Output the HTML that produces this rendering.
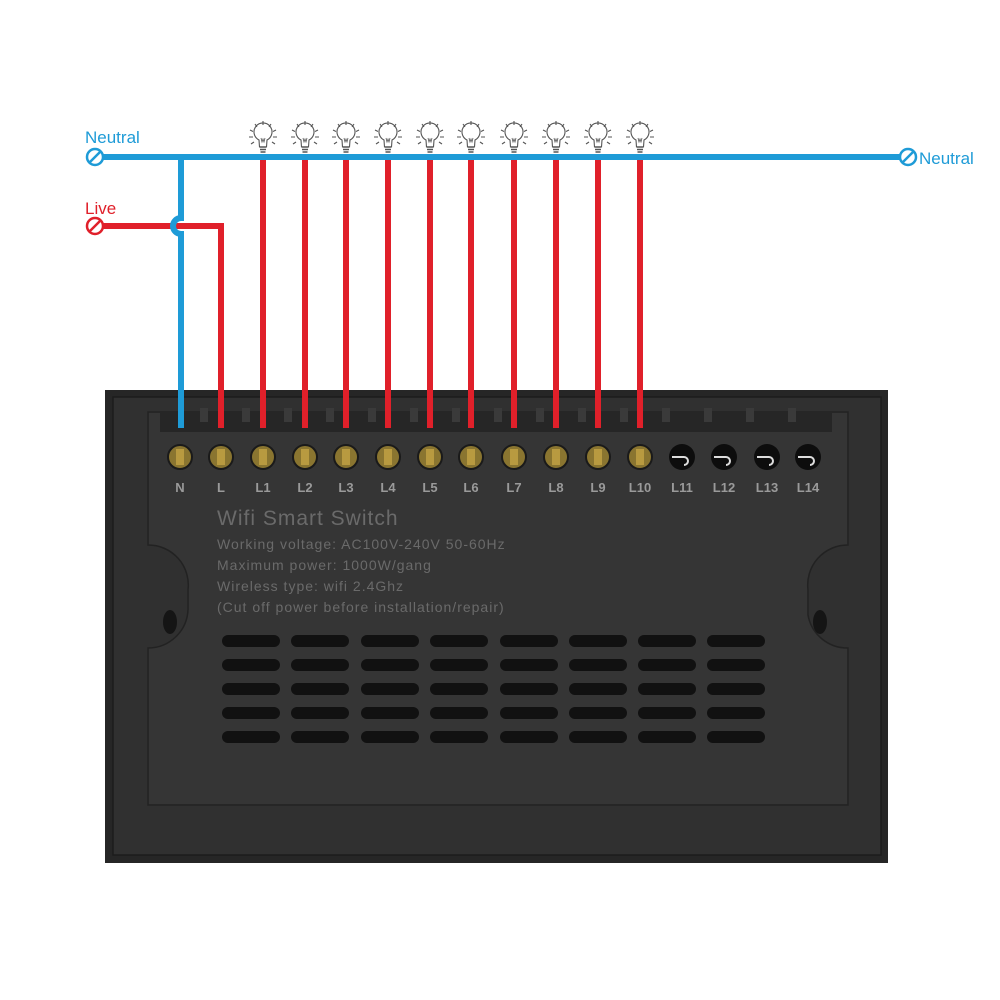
<!DOCTYPE html>
<html><head><meta charset="utf-8"><style>
html,body{margin:0;padding:0;background:#fff;}
svg{display:block}
</style></head><body>
<svg width="1000" height="1000" viewBox="0 0 1000 1000" xmlns="http://www.w3.org/2000/svg" font-family="Liberation Sans, sans-serif">
<defs>
<g id="bulb" fill="none" stroke="#555" stroke-width="1.1">
  <path d="M-4,-2 A9,9 0 1 1 4,-2 L3.5,5 L-3.5,5 Z" fill="#fff"/>
  <path d="M-3,5 h6 M-3,7.5 h6 M-2.5,10 h5" stroke-width="1.4"/>
  <path d="M-2,-4 l1,4 l1,-3 l1,3 l1,-4" stroke-width="0.8"/>
  <path d="M0,-21 v4 M-8,-18 l2,3 M8,-18 l-2,3 M-13,-12 l3,1.5 M13,-12 l-3,1.5 M-14,-5 h4 M14,-5 h-4 M-12,2 l3,-2 M12,2 l-3,-2"/>
</g>
</defs>
<!-- panel -->
<rect x="105" y="390" width="783" height="473" fill="#262626"/>
<rect x="113" y="397" width="768" height="458" fill="#303030" stroke="#1c1c1c" stroke-width="1.5"/>
<path d="M148,412 H848 V545 A40,40 0 0 0 808,590 V615 A40,40 0 0 0 848,648 V805 H148 V648 A40,40 0 0 0 188,610 V590 A40,40 0 0 0 148,545 Z" fill="#353535" stroke="#222" stroke-width="1.5"/>
<rect x="160" y="412" width="672" height="20" fill="#262626"/>
<g fill="#3a3a3a">
<rect x="200" y="408" width="8" height="14"/><rect x="242" y="408" width="8" height="14"/><rect x="284" y="408" width="8" height="14"/><rect x="326" y="408" width="8" height="14"/><rect x="368" y="408" width="8" height="14"/><rect x="410" y="408" width="8" height="14"/><rect x="452" y="408" width="8" height="14"/><rect x="494" y="408" width="8" height="14"/><rect x="536" y="408" width="8" height="14"/><rect x="578" y="408" width="8" height="14"/><rect x="620" y="408" width="8" height="14"/><rect x="662" y="408" width="8" height="14"/><rect x="704" y="408" width="8" height="14"/><rect x="746" y="408" width="8" height="14"/><rect x="788" y="408" width="8" height="14"/>
</g>
<ellipse cx="170" cy="622" rx="7" ry="12" fill="#151515"/>
<ellipse cx="820" cy="622" rx="7" ry="12" fill="#151515"/>
<!-- terminals -->
<g id="terms">
</g>
<g fill="#8a7530" stroke="#1a1a1a" stroke-width="2">
<circle cx="180" cy="457" r="12"/><circle cx="221" cy="457" r="12"/><circle cx="263" cy="457" r="12"/><circle cx="305" cy="457" r="12"/><circle cx="346" cy="457" r="12"/><circle cx="388" cy="457" r="12"/><circle cx="430" cy="457" r="12"/><circle cx="471" cy="457" r="12"/><circle cx="514" cy="457" r="12"/><circle cx="556" cy="457" r="12"/><circle cx="598" cy="457" r="12"/><circle cx="640" cy="457" r="12"/>
</g>
<g fill="#b89a40">
<rect x="176" y="449" width="8" height="16"/><rect x="217" y="449" width="8" height="16"/><rect x="259" y="449" width="8" height="16"/><rect x="301" y="449" width="8" height="16"/><rect x="342" y="449" width="8" height="16"/><rect x="384" y="449" width="8" height="16"/><rect x="426" y="449" width="8" height="16"/><rect x="467" y="449" width="8" height="16"/><rect x="510" y="449" width="8" height="16"/><rect x="552" y="449" width="8" height="16"/><rect x="594" y="449" width="8" height="16"/><rect x="636" y="449" width="8" height="16"/>
</g>
<g fill="#0d0d0d">
<circle cx="682" cy="457" r="13"/><circle cx="724" cy="457" r="13"/><circle cx="767" cy="457" r="13"/><circle cx="808" cy="457" r="13"/>
</g>
<g stroke="#ddd" stroke-width="2" fill="none">
<path d="M672,457 h12 a4,4 0 0 1 0,8"/><path d="M714,457 h12 a4,4 0 0 1 0,8"/><path d="M757,457 h12 a4,4 0 0 1 0,8"/><path d="M798,457 h12 a4,4 0 0 1 0,8"/>
</g>
<g fill="#9a9a9a" font-size="13" font-weight="bold" text-anchor="middle">
<text x="180" y="492">N</text><text x="221" y="492">L</text><text x="263" y="492">L1</text><text x="305" y="492">L2</text><text x="346" y="492">L3</text><text x="388" y="492">L4</text><text x="430" y="492">L5</text><text x="471" y="492">L6</text><text x="514" y="492">L7</text><text x="556" y="492">L8</text><text x="598" y="492">L9</text><text x="640" y="492">L10</text><text x="682" y="492">L11</text><text x="724" y="492">L12</text><text x="767" y="492">L13</text><text x="808" y="492">L14</text>
</g>
<g fill="#6a6a6a" letter-spacing="1">
<text x="217" y="525" font-size="21">Wifi Smart Switch</text>
<text x="217" y="549" font-size="14">Working voltage: AC100V-240V 50-60Hz</text>
<text x="217" y="570" font-size="14">Maximum power: 1000W/gang</text>
<text x="217" y="591" font-size="14">Wireless type: wifi 2.4Ghz</text>
<text x="217" y="612" font-size="14">(Cut off power before installation/repair)</text>
</g>
<!-- vents -->
<g fill="#111">
<rect x="222" y="635" width="58" height="12" rx="6"/><rect x="291" y="635" width="58" height="12" rx="6"/><rect x="361" y="635" width="58" height="12" rx="6"/><rect x="430" y="635" width="58" height="12" rx="6"/><rect x="500" y="635" width="58" height="12" rx="6"/><rect x="569" y="635" width="58" height="12" rx="6"/><rect x="638" y="635" width="58" height="12" rx="6"/><rect x="707" y="635" width="58" height="12" rx="6"/>
<rect x="222" y="659" width="58" height="12" rx="6"/><rect x="291" y="659" width="58" height="12" rx="6"/><rect x="361" y="659" width="58" height="12" rx="6"/><rect x="430" y="659" width="58" height="12" rx="6"/><rect x="500" y="659" width="58" height="12" rx="6"/><rect x="569" y="659" width="58" height="12" rx="6"/><rect x="638" y="659" width="58" height="12" rx="6"/><rect x="707" y="659" width="58" height="12" rx="6"/>
<rect x="222" y="683" width="58" height="12" rx="6"/><rect x="291" y="683" width="58" height="12" rx="6"/><rect x="361" y="683" width="58" height="12" rx="6"/><rect x="430" y="683" width="58" height="12" rx="6"/><rect x="500" y="683" width="58" height="12" rx="6"/><rect x="569" y="683" width="58" height="12" rx="6"/><rect x="638" y="683" width="58" height="12" rx="6"/><rect x="707" y="683" width="58" height="12" rx="6"/>
<rect x="222" y="707" width="58" height="12" rx="6"/><rect x="291" y="707" width="58" height="12" rx="6"/><rect x="361" y="707" width="58" height="12" rx="6"/><rect x="430" y="707" width="58" height="12" rx="6"/><rect x="500" y="707" width="58" height="12" rx="6"/><rect x="569" y="707" width="58" height="12" rx="6"/><rect x="638" y="707" width="58" height="12" rx="6"/><rect x="707" y="707" width="58" height="12" rx="6"/>
<rect x="222" y="731" width="58" height="12" rx="6"/><rect x="291" y="731" width="58" height="12" rx="6"/><rect x="361" y="731" width="58" height="12" rx="6"/><rect x="430" y="731" width="58" height="12" rx="6"/><rect x="500" y="731" width="58" height="12" rx="6"/><rect x="569" y="731" width="58" height="12" rx="6"/><rect x="638" y="731" width="58" height="12" rx="6"/><rect x="707" y="731" width="58" height="12" rx="6"/>
</g>
<!-- wires -->
<g stroke="#e0202a" stroke-width="6" fill="none">
<line x1="263" y1="157" x2="263" y2="428"/><line x1="305" y1="157" x2="305" y2="428"/><line x1="346" y1="157" x2="346" y2="428"/><line x1="388" y1="157" x2="388" y2="428"/><line x1="430" y1="157" x2="430" y2="428"/><line x1="471" y1="157" x2="471" y2="428"/><line x1="514" y1="157" x2="514" y2="428"/><line x1="556" y1="157" x2="556" y2="428"/><line x1="598" y1="157" x2="598" y2="428"/><line x1="640" y1="157" x2="640" y2="428"/>
<path d="M102,226 H221 V428"/>
</g>
<g stroke="#1e9bd7" stroke-width="6" fill="none">
<line x1="102" y1="157" x2="900" y2="157"/>
<path d="M181,157 V218 A8,8 0 0 0 181,234 V428"/>
</g>
<circle cx="95" cy="157" r="8" fill="#fff" stroke="#1e9bd7" stroke-width="2.5"/>
<line x1="90" y1="162" x2="100" y2="152" stroke="#1e9bd7" stroke-width="2.5"/>
<circle cx="908" cy="157" r="8" fill="#fff" stroke="#1e9bd7" stroke-width="2.5"/>
<line x1="903" y1="162" x2="913" y2="152" stroke="#1e9bd7" stroke-width="2.5"/>
<circle cx="95" cy="226" r="8" fill="#fff" stroke="#e0202a" stroke-width="2.5"/>
<line x1="90" y1="231" x2="100" y2="221" stroke="#e0202a" stroke-width="2.5"/>
<text x="85" y="143" font-size="17" fill="#1e9bd7">Neutral</text>
<text x="919" y="164" font-size="17" fill="#1e9bd7">Neutral</text>
<text x="85" y="214" font-size="17" fill="#e0202a">Live</text>
<!-- bulbs -->
<use href="#bulb" x="263" y="142"/><use href="#bulb" x="305" y="142"/><use href="#bulb" x="346" y="142"/><use href="#bulb" x="388" y="142"/><use href="#bulb" x="430" y="142"/><use href="#bulb" x="471" y="142"/><use href="#bulb" x="514" y="142"/><use href="#bulb" x="556" y="142"/><use href="#bulb" x="598" y="142"/><use href="#bulb" x="640" y="142"/>
</svg>
</body></html>
